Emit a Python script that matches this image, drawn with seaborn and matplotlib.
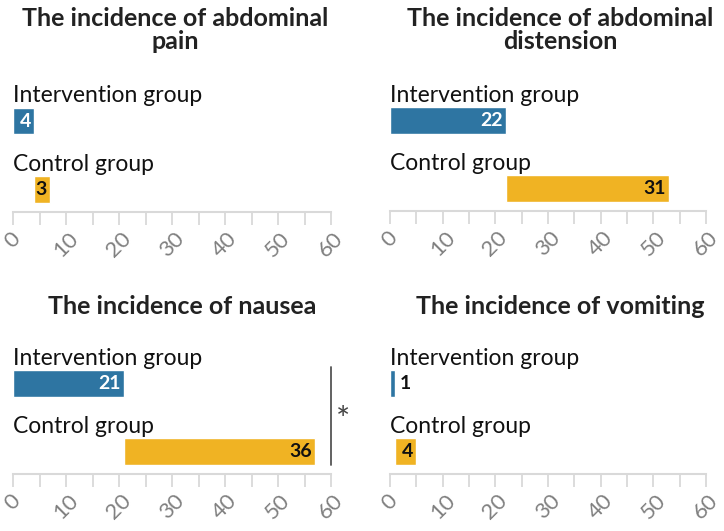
import matplotlib
matplotlib.use("Agg")
import matplotlib.pyplot as plt
import matplotlib.transforms as mtrans
import seaborn as sns
import pandas as pd
import numpy as np

titles = ["The incidence of abdominal\npain",
          "The incidence of abdominal\ndistension",
          "The incidence of nausea",
          "The incidence of vomiting"]
groups = ["Intervention group", "Control group"]
intervention = [4, 22, 21, 1]
control = [3, 31, 36, 4]
significant = [False, False, True, False]
xticks = [0, 10, 20, 30, 40, 50, 60]

BLUE = "#2E75A2"
GOLD = "#F0B323"

sns.set_theme(style="white")
plt.rcParams['font.family'] = ['Lato', 'DejaVu Sans']

fig = plt.figure(figsize=(7.24, 5.31), dpi=100)
W, H = 724, 531

# panel layout in pixels: (x0, x60, axis_y, top_y)
layout = [(13, 331, 212, 80), (390, 706, 211, 80),
          (13, 331, 474, 343), (390, 706, 474, 343)]
title_pos = [(175, 30), (560, 30), (182, 307), (560, 307)]

for i in range(4):
    x0, x1, ay, ty = layout[i]
    ax = fig.add_axes([x0 / W, 1 - ay / H, (x1 - x0) / W, (ay - ty) / H])
    # y coords: 0 = intervention bar, 1 = control bar
    df = pd.DataFrame({"group": [groups[0]], "value": [intervention[i]], "pos": [0]})
    sns.barplot(data=df, x="value", y="pos", orient="y", color=BLUE,
                width=0.39, saturation=1, ax=ax, native_scale=True)
    ax.barh(1, control[i], left=intervention[i], height=0.39, color=GOLD)
    ax.set_xlim(0, 60)
    ax.set_ylim(1.33, -0.6)
    ax.set_ylabel("")
    ax.set_xlabel("")
    ax.set_yticks([])
    # category labels
    ax.text(0, -0.37, groups[0], fontsize=16.5, va="center", ha="left", color="#111111")
    ax.text(0, 0.63, groups[1], fontsize=16.5, va="center", ha="left", color="#111111")
    # value labels
    iv = intervention[i]
    if iv >= 3:
        ax.text(iv - 0.6, 0, str(iv), color="white", fontweight="bold",
                fontsize=14, ha="right", va="center")
    else:
        ax.text(iv + 0.8, 0, str(iv), color="#111111", fontweight="bold",
                fontsize=14, ha="left", va="center")
    end = intervention[i] + control[i]
    ax.text(end - 0.6, 1, str(control[i]), color="#111111", fontweight="bold",
            fontsize=14, ha="right", va="center")
    if significant[i]:
        ax.plot([60, 60], [-0.25, 1.2], color="#555555", lw=1.3, clip_on=False)
        ax.text(61.0, 0.55, "*", fontsize=24, color="#444444", ha="left", va="center")
    # axes styling
    for s in ["top", "right", "left"]:
        ax.spines[s].set_visible(False)
    ax.spines["bottom"].set_color("#d9d9d9")
    ax.spines["bottom"].set_linewidth(1.5)
    ax.set_xticks(xticks)
    ax.set_xticks(np.arange(5, 60, 10), minor=True)
    ax.tick_params(axis="x", which="both", direction="out", length=9, width=1.3,
                   color="#d9d9d9", bottom=True)
    labels = ax.set_xticklabels([str(t) for t in xticks], rotation=45, fontsize=16,
                                color="#808080", ha="center", va="top")
    shift = mtrans.ScaledTranslation(-2 / 72, 0, fig.dpi_scale_trans)
    for lab in labels:
        lab.set_transform(lab.get_transform() + shift)
    ax.tick_params(axis="x", which="major", pad=3)
    # title
    tx, tyy = title_pos[i]
    fig.text(tx / W, 1 - tyy / H, titles[i],
             fontsize=18, fontweight="bold", ha="center", va="center",
             color="#222222", linespacing=1.0)

fig.savefig("out.png", dpi=100)
